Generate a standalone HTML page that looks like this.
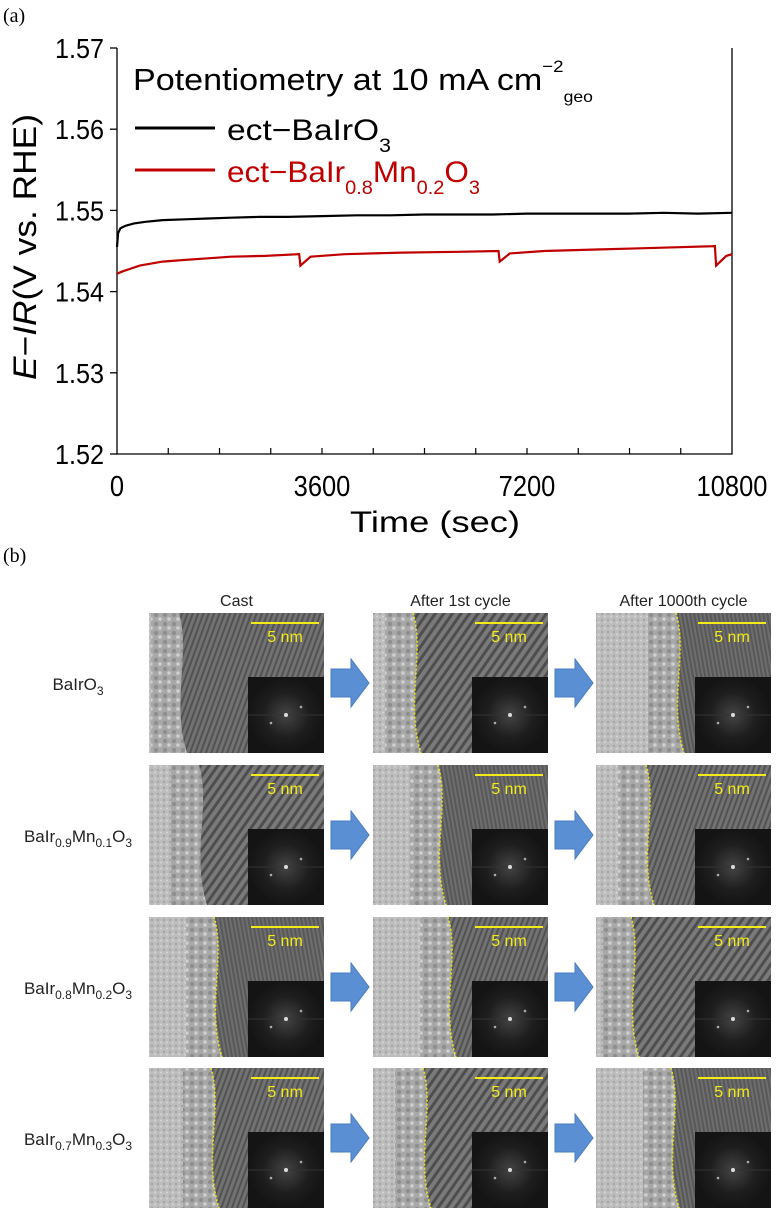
<!DOCTYPE html>
<html><head><meta charset="utf-8">
<style>
html,body{margin:0;padding:0;background:#fff;}
body{width:776px;height:1211px;overflow:hidden;position:relative;}
svg text{font-family:"Liberation Sans",sans-serif;}
</style></head>
<body>
<svg id="root" width="776" height="1211" viewBox="0 0 776 1211" xmlns="http://www.w3.org/2000/svg">
<defs>
 <pattern id="fr1" width="5" height="5" patternUnits="userSpaceOnUse" patternTransform="rotate(20)"><rect width="5" height="5" fill="#727272"/><rect width="2" height="5" fill="#525252"/></pattern>
 <pattern id="fr2" width="7" height="7" patternUnits="userSpaceOnUse" patternTransform="rotate(35)"><rect width="7" height="7" fill="#7a7a7a"/><rect width="3" height="7" fill="#4e4e4e"/></pattern>
 <pattern id="fr3" width="4" height="4" patternUnits="userSpaceOnUse" patternTransform="rotate(-10)"><rect width="4" height="4" fill="#6e6e6e"/><rect width="2" height="4" fill="#585858"/></pattern>
 <pattern id="am" width="9" height="9" patternUnits="userSpaceOnUse"><rect width="9" height="9" fill="#a8a8a8"/><circle cx="3" cy="3" r="2.2" fill="#8e8e8e"/><circle cx="7" cy="7" r="1.8" fill="#cfcfcf"/></pattern>
 <pattern id="am2" width="6" height="6" patternUnits="userSpaceOnUse"><rect width="6" height="6" fill="#bdbdbd"/><circle cx="2" cy="2" r="1.2" fill="#a6a6a6"/><circle cx="5" cy="4.5" r="1" fill="#d6d6d6"/></pattern>
 <radialGradient id="fftg"><stop offset="0" stop-color="#444"/><stop offset="0.6" stop-color="#1e1e1e"/><stop offset="1" stop-color="#141414"/></radialGradient>
</defs>
<text x="3" y="22" font-size="20" style="font-family:'Liberation Serif',serif">(a)</text>
<g id="chart"></g>
<text x="3" y="562" font-size="20" style="font-family:'Liberation Serif',serif">(b)</text>
<g id="tem"></g>
</svg>
<script>
const yTicks=[1.52,1.53,1.54,1.55,1.56,1.57];
const xTicks=[0,3600,7200,10800];
const blackT=[0,20,60,150,300,500,800,1200,1600,2000,2500,3000,3600,4200,4800,5400,6000,6600,7200,7800,8400,9000,9600,10200,10800];
const blackV=[1.5455,1.5472,1.5478,1.5481,1.5484,1.5486,1.5488,1.5489,1.5490,1.5491,1.5492,1.5492,1.5493,1.5494,1.5494,1.5495,1.5495,1.5495,1.5496,1.5496,1.5496,1.5496,1.5497,1.5496,1.5497];
const redT=[0,100,400,800,1200,1600,2000,2600,3200,3220,3400,4000,5000,6000,6700,6720,6900,7500,8500,9500,10500,10520,10700,10800];
const redV=[1.5422,1.5425,1.5432,1.5437,1.5439,1.5441,1.5443,1.5444,1.5446,1.5432,1.5443,1.5446,1.5448,1.5449,1.5450,1.5437,1.5447,1.5450,1.5452,1.5454,1.5456,1.5432,1.5444,1.5446];
const NS="http://www.w3.org/2000/svg";
function mk(t,a,p){const e=document.createElementNS(NS,t);for(const k in a)e.setAttribute(k,a[k]);p.appendChild(e);return e;}
const ch=document.getElementById('chart');
const X0=117,X1=732,Y0=454,Y1=48;
const sx=v=>X0+v/10800*(X1-X0);
const sy=v=>Y0-(v-1.52)/0.05*(Y0-Y1);
const frame=mk('path',{d:`M${X0} ${Y1}V${Y0}H${X1}V${Y1}`,fill:'none',stroke:'#000','stroke-width':1.3},ch);


yTicks.forEach(v=>{
 const l=mk('line',{x1:X0-7,x2:X0,y1:sy(v),y2:sy(v),stroke:'#000','stroke-width':1.3},ch);
 
 
 const t=mk('text',{x:0,y:0,'font-size':28,'text-anchor':'end',transform:`translate(${X0-13} ${sy(v)+10}) scale(0.9 1)`},ch);
 t.textContent=v.toFixed(2);
 
 
});
for(let v=900;v<10800;v+=900){
 const l=mk('line',{x1:sx(v),x2:sx(v),y1:Y0,y2:Y0-6,stroke:'#000','stroke-width':1.2},ch);
 
 
}
xTicks.forEach(v=>{
 const t=mk('text',{x:0,y:0,'font-size':29,'text-anchor':'middle',transform:`translate(${sx(v)} 496) scale(0.88 1)`},ch);
 t.textContent=v;
 
 
});
const xt=mk('text',{x:350,y:532,'font-size':30,textLength:170,lengthAdjust:'spacingAndGlyphs'},ch);
xt.textContent='Time (sec)';


const yt=mk('text',{x:-380,y:0,'font-size':32,textLength:266,lengthAdjust:'spacingAndGlyphs',transform:'translate(36 0) rotate(-90)'},ch);
yt.innerHTML='<tspan font-style="italic">E</tspan>−<tspan font-style="italic">IR</tspan>(V vs. RHE)';


function series(T,V,c,name){
 const d=T.map((t,i)=>(i?'L':'M')+sx(t).toFixed(1)+' '+sy(V[i]).toFixed(1)).join('');
 const p=mk('path',{d:d,fill:'none',stroke:c,'stroke-width':2.2},ch);
 
 
}
series(blackT,blackV,'#000','series-bairo3');
series(redT,redV,'#c00000','series-bairmno3');
const tt=mk('text',{x:0,y:0,'font-size':31,transform:'translate(133 90) scale(1.1 1)'},ch);
tt.innerHTML='Potentiometry at 10 mA cm<tspan dy="-18" font-size="17">−2</tspan><tspan dy="30" font-size="16">geo</tspan>';


const l1=mk('line',{x1:135,x2:215,y1:128,y2:128,stroke:'#000','stroke-width':3},ch);


const t1=mk('text',{x:0,y:0,'font-size':30,transform:'translate(227 140) scale(1.12 1)'},ch);
t1.innerHTML='ect−BaIrO<tspan dy="12" font-size="19">3</tspan>';


const l2=mk('line',{x1:135,x2:215,y1:170,y2:170,stroke:'#c00000','stroke-width':3},ch);


const t2=mk('text',{x:0,y:0,'font-size':30,fill:'#c00000',transform:'translate(227 182) scale(1.05 1)'},ch);
t2.innerHTML='ect−BaIr<tspan dy="12" font-size="19">0.8</tspan><tspan dy="-12">Mn</tspan><tspan dy="12" font-size="19">0.2</tspan><tspan dy="-12">O</tspan><tspan dy="12" font-size="19">3</tspan>';



// Panel (b)
const tem=document.getElementById('tem');
const colX=[149,373,596], rowY=[613,765,917,1068], W=175, H=140;
const headers=['Cast','After 1st cycle','After 1000th cycle'];
const rowLabels=[['BaIrO','3'],['BaIr','0.9','Mn','0.1','O','3'],['BaIr','0.8','Mn','0.2','O','3'],['BaIr','0.7','Mn','0.3','O','3']];
const bnd=[[30,40,80],[50,65,50],[65,75,35],[62,50,75]];
const dotted=[[0,1,1],[0,1,1],[1,1,1],[1,1,1]];
const pats=['fr1','fr2','fr3'];
headers.forEach((h,c)=>{
 const t=mk('text',{x:colX[c]+W/2,y:606,'font-size':16,'text-anchor':'middle',fill:'#222'},tem);
 t.textContent=h;
 
 
});
rowLabels.forEach((rl,r)=>{
 const t=mk('text',{x:78,y:rowY[r]+H/2+7,'font-size':17,'text-anchor':'middle',fill:'#222'},tem);
 let s='';
 rl.forEach((p,i)=>{ s+= (i%2==1) ? `<tspan dy="5" font-size="12">${p}</tspan>` : `<tspan dy="${i?-5:0}">${p}</tspan>`; });
 t.innerHTML=s;
 
 
 for(let c=0;c<3;c++){
  const x=colX[c], y=rowY[r], b=bnd[r][c];
  const g=mk('g',{},tem);
  
  
  mk('rect',{x:x,y:y,width:W,height:H,fill:'url(#am2)'},g);
  mk('rect',{x:x+Math.max(0,b-28),y:y,width:Math.min(b,28)+6,height:H,fill:'url(#am)'},g);
  mk('path',{d:`M${x+b} ${y} C${x+b+12} ${y+40} ${x+b-8} ${y+90} ${x+b+8} ${y+H} L${x+W} ${y+H} L${x+W} ${y} Z`,fill:'url(#'+pats[(r+c)%3]+')'},g);
  if(dotted[r][c]){
   const dl=mk('path',{d:`M${x+b} ${y} C${x+b+12} ${y+40} ${x+b-8} ${y+90} ${x+b+8} ${y+H}`,fill:'none',stroke:'#e8e020','stroke-width':1.6,'stroke-dasharray':'2 2'},g);
   
   
  }
  const sb=mk('line',{x1:x+102,x2:x+170,y1:y+10,y2:y+10,stroke:'#f2ea1a','stroke-width':2},g);
  
  
  const st=mk('text',{x:x+136,y:y+29,'font-size':16,'text-anchor':'middle',fill:'#f2ea1a'},g);
  st.textContent='5 nm';
  
  
  const ix=x+W-76, iy=y+H-76;
  const fft=mk('rect',{x:ix,y:iy,width:76,height:76,fill:'url(#fftg)'},g);
  
  
  mk('line',{x1:ix,x2:ix+76,y1:iy+38,y2:iy+38,stroke:'#333','stroke-width':1},g);
  mk('circle',{cx:ix+38,cy:iy+38,r:2,fill:'#ddd'},g);
  mk('circle',{cx:ix+53,cy:iy+30,r:1.3,fill:'#aaa'},g);
  mk('circle',{cx:ix+23,cy:iy+46,r:1.3,fill:'#aaa'},g);
 }
});
[0,1].forEach(c=>{
 rowY.forEach(y=>{
  const ax0=colX[c]+W+7, cy=y+H/2;
  const a=mk('path',{d:`M${ax0} ${cy-14}H${ax0+20}V${cy-24}L${ax0+38} ${cy}L${ax0+20} ${cy+24}V${cy+14}H${ax0}Z`,fill:'#5b8fd4',stroke:'#4a7cbf','stroke-width':1},tem);
  
  
 });
});
</script>
</body></html>
